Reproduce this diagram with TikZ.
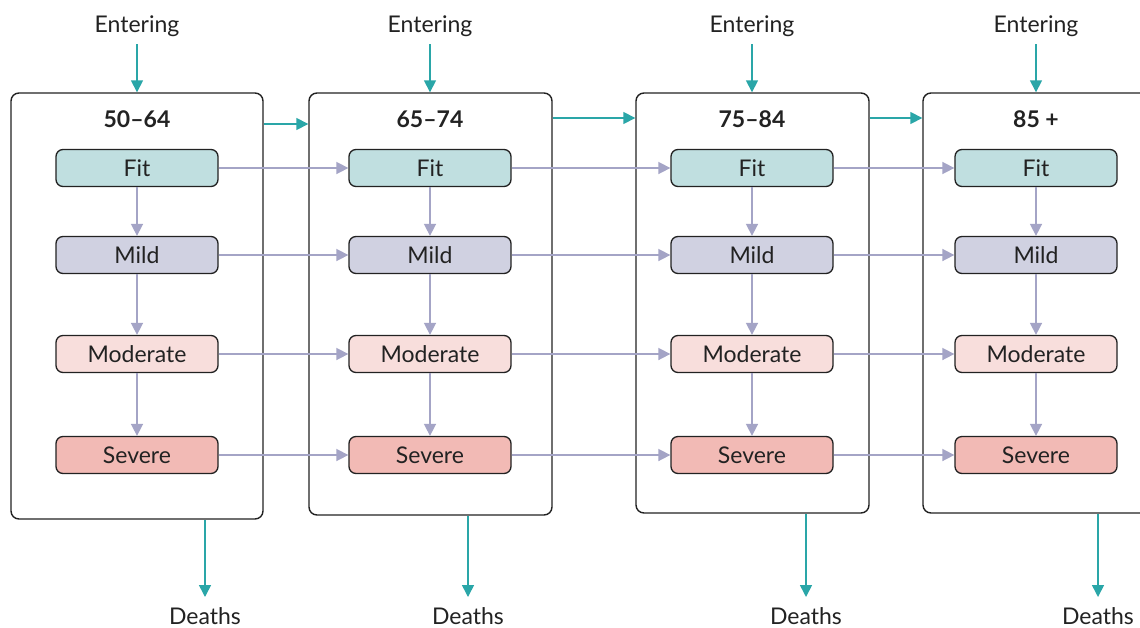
\documentclass[tikz,border=0pt]{standalone}
\usepackage{fontspec}
\setmainfont{Lato}
\usetikzlibrary{arrows.meta,positioning,calc}
\definecolor{tealflow}{HTML}{2AA6A8}
\definecolor{lavline}{HTML}{A4A4C6}
\definecolor{fitfill}{HTML}{C0DFE0}
\definecolor{mildfill}{HTML}{D0D1E1}
\definecolor{modfill}{HTML}{F8DEDC}
\definecolor{sevfill}{HTML}{F2BAB5}
\definecolor{inkdark}{HTML}{222222}
\tikzset{
  agebox/.style={draw=inkdark, line width=1.4pt, rounded corners=8pt, fill=white, inner sep=0pt},
  statebox/.style={draw=inkdark, line width=1.3pt, rounded corners=7pt, minimum width=162pt, minimum height=37pt, inner sep=0pt, font=\fontsize{23}{26}\selectfont, text=inkdark},
  agehead/.style={font=\bfseries\fontsize{23}{26}\selectfont, text=inkdark},
  flowlabel/.style={font=\fontsize{23}{26}\selectfont, text=inkdark},
  tealarrow/.style={draw=tealflow, line width=1.6pt, -{Triangle[length=12pt,width=12pt]}},
  lavarrow/.style={draw=lavline, line width=1.6pt, -{Triangle[length=12pt,width=12pt]}},
}
\begin{document}
\begin{tikzpicture}[x=1pt,y=-1pt]
\useasboundingbox (0,0) rectangle (1140,627);
\clip (0,0) rectangle (1140,627);

% age-group frames
\node[agebox, minimum width=252pt, minimum height=426pt] (b1) at (137,306) {};
\node[agebox, minimum width=243pt, minimum height=422pt] (b2) at (430.5,304) {};
\node[agebox, minimum width=233pt, minimum height=420pt] (b3) at (752.5,303) {};
\node[agebox, minimum width=233pt, minimum height=420pt] (b4) at (1039.5,303) {};

% headers
\node[agehead] (h1) at (137,119) {50–64};
\node[agehead] (h2) at (430,119) {65–74};
\node[agehead] (h3) at (752,119) {75–84};
\node[agehead] (h4) at (1036,119) {85 +};

% health states per age group
\foreach \c/\x in {1/137,2/430,3/752,4/1036}{
  \node[statebox, fill=fitfill]  (fit\c)  at (\x,168) {Fit};
  \node[statebox, fill=mildfill] (mild\c) at (\x,255) {Mild};
  \node[statebox, fill=modfill]  (mod\c)  at (\x,354) {Moderate};
  \node[statebox, fill=sevfill]  (sev\c)  at (\x,455) {Severe};
  \draw[lavarrow] (fit\c) -- (mild\c);
  \draw[lavarrow] (mild\c) -- (mod\c);
  \draw[lavarrow] (mod\c) -- (sev\c);
}

% ageing transitions between states
\foreach \a/\b in {1/2,2/3,3/4}{
  \draw[lavarrow] (fit\a) -- (fit\b);
  \draw[lavarrow] (mild\a) -- (mild\b);
  \draw[lavarrow] (mod\a) -- (mod\b);
  \draw[lavarrow] (sev\a) -- (sev\b);
}

% ageing transitions between frames
\draw[tealarrow] (b1.east |- 0,124) -- (b2.west |- 0,124);
\draw[tealarrow] (b2.east |- 0,118) -- (b3.west |- 0,118);
\draw[tealarrow] (b3.east |- 0,118) -- (b4.west |- 0,118);

% entries
\foreach \c/\x in {1/137,2/430,3/752,4/1036}{
  \node[flowlabel] (e\c) at (\x,26) {Entering};
  \coordinate (es\c) at (\x,44);
  \draw[tealarrow] (es\c) -- (es\c |- b\c.north);
}

% deaths
\foreach \c/\x in {1/205,2/468,3/806,4/1098}{
  \node[flowlabel] (d\c) at (\x,616) {Deaths};
  \coordinate (de\c) at (\x,597);
  \draw[tealarrow] (de\c |- b\c.south) -- (de\c);
}
\end{tikzpicture}
\end{document}
